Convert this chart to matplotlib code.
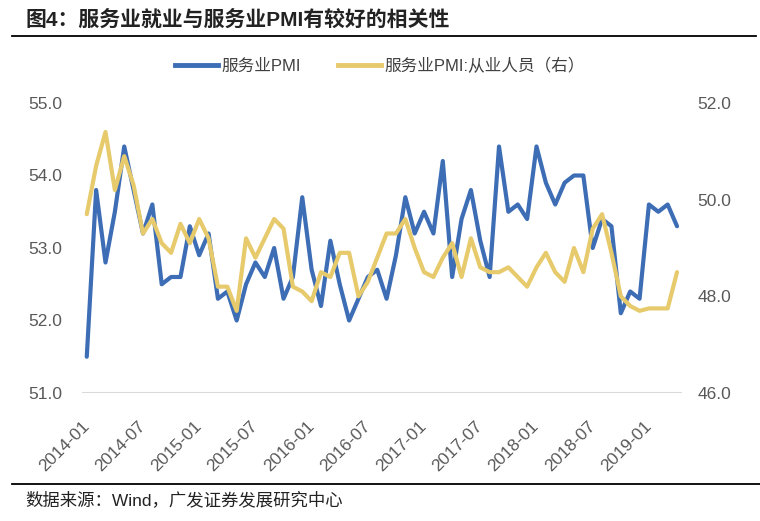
import matplotlib
matplotlib.use('Agg')
import matplotlib.pyplot as plt
from matplotlib.lines import Line2D

plt.rcParams['font.family'] = ['Liberation Sans', 'Noto Sans CJK SC', 'DejaVu Sans']

# monthly data 2014-01 .. 2019-04
months = ['2014-01', '2014-02', '2014-03', '2014-04', '2014-05', '2014-06',
          '2014-07', '2014-08', '2014-09', '2014-10', '2014-11', '2014-12',
          '2015-01', '2015-02', '2015-03', '2015-04', '2015-05', '2015-06',
          '2015-07', '2015-08', '2015-09', '2015-10', '2015-11', '2015-12',
          '2016-01', '2016-02', '2016-03', '2016-04', '2016-05', '2016-06',
          '2016-07', '2016-08', '2016-09', '2016-10', '2016-11', '2016-12',
          '2017-01', '2017-02', '2017-03', '2017-04', '2017-05', '2017-06',
          '2017-07', '2017-08', '2017-09', '2017-10', '2017-11', '2017-12',
          '2018-01', '2018-02', '2018-03', '2018-04', '2018-05', '2018-06',
          '2018-07', '2018-08', '2018-09', '2018-10', '2018-11', '2018-12',
          '2019-01', '2019-02', '2019-03', '2019-04']

pmi = [51.5, 53.8, 52.8, 53.5, 54.4, 53.8, 53.2, 53.6, 52.5, 52.6,
       52.6, 53.3, 52.9, 53.2, 52.3, 52.4, 52.0, 52.5, 52.8, 52.6,
       53.0, 52.3, 52.6, 53.7, 52.7, 52.2, 53.1, 52.5, 52.0, 52.3,
       52.6, 52.7, 52.3, 52.9, 53.7, 53.2, 53.5, 53.2, 54.2, 52.6,
       53.4, 53.8, 53.1, 52.6, 54.4, 53.5, 53.6, 53.4, 54.4, 53.9,
       53.6, 53.9, 54.0, 54.0, 53.0, 53.4, 53.3, 52.1, 52.4, 52.3,
       53.6, 53.5, 53.6, 53.3]

employ = [49.7, 50.7, 51.4, 50.2, 50.9, 50.3, 49.3, 49.6, 49.1, 48.9,
          49.5, 49.1, 49.6, 49.2, 48.2, 48.2, 47.7, 49.2, 48.8, 49.2,
          49.6, 49.4, 48.2, 48.1, 47.9, 48.5, 48.4, 48.9, 48.9, 48.0,
          48.3, 48.8, 49.3, 49.3, 49.6, 49.0, 48.5, 48.4, 48.8, 49.1,
          48.4, 49.2, 48.6, 48.5, 48.5, 48.6, 48.4, 48.2, 48.6, 48.9,
          48.5, 48.3, 49.0, 48.5, 49.4, 49.7, 48.9, 48.0, 47.8, 47.7,
          47.75, 47.75, 47.75, 48.5]

left_ticks = [51.0, 52.0, 53.0, 54.0, 55.0]
right_ticks = [46.0, 48.0, 50.0, 52.0]

blue = '#3D6DB5'
yellow = '#E6CA6C'
grey = '#595959'

fig = plt.figure(figsize=(7.6, 5.21), dpi=100)
ax = fig.add_axes([0.108, 0.2457, 0.789, 0.5566])
ax2 = ax.twinx()

x = list(range(len(months)))
ax.plot(x, pmi, color=blue, lw=3.0, solid_joinstyle='round', solid_capstyle='round')
ax2.plot(x, employ, color=yellow, lw=3.0, solid_joinstyle='round', solid_capstyle='round')

ax.set_xlim(-0.5, len(months) - 0.5)
ax.set_ylim(51, 55)
ax2.set_ylim(46, 52)
ax.set_yticks(left_ticks)
ax.set_yticklabels(['%.1f' % v for v in left_ticks])
ax2.set_yticks(right_ticks)
ax2.set_yticklabels(['%.1f' % v for v in right_ticks])

xt = x[::6]
ax.set_xticks(xt)
ax.set_xticklabels([months[i] for i in xt], rotation=45, ha='right', va='center',
                   rotation_mode='anchor')

for a in (ax, ax2):
    for s in a.spines.values():
        s.set_visible(False)
    a.tick_params(length=0, colors=grey, labelsize=12.5)
ax.tick_params(axis='y', pad=14)
ax2.tick_params(axis='y', pad=11.5)
ax.tick_params(axis='x', pad=22)
ax.axhline(51, color='#D9D9D9', lw=1.5, zorder=0)

# legend
handles = [Line2D([], [], color=blue, lw=3.5), Line2D([], [], color=yellow, lw=3.5)]
fig.legend(handles, ['服务业PMI', '服务业PMI:从业人员（右）'], loc='center',
           bbox_to_anchor=(0.5, 0.873), ncol=2, frameon=False, fontsize=12,
           handlelength=2.6, handletextpad=0.2, columnspacing=2.2, labelcolor='#404040')

# title and source
fig.text(0.033, 0.962, '图4：服务业就业与服务业PMI有较好的相关性', fontsize=15,
         fontweight='bold', color='#222222', va='center', ha='left')
fig.add_artist(Line2D([0.016, 0.995], [0.931, 0.931], color='black', lw=1.3))
fig.add_artist(Line2D([0.016, 1.0], [0.071, 0.071], color='black', lw=1.3))
fig.text(0.033, 0.040, '数据来源：Wind，广发证券发展研究中心', fontsize=12.5,
         color='#222222', va='center', ha='left')

fig.savefig('out.png', dpi=100)
